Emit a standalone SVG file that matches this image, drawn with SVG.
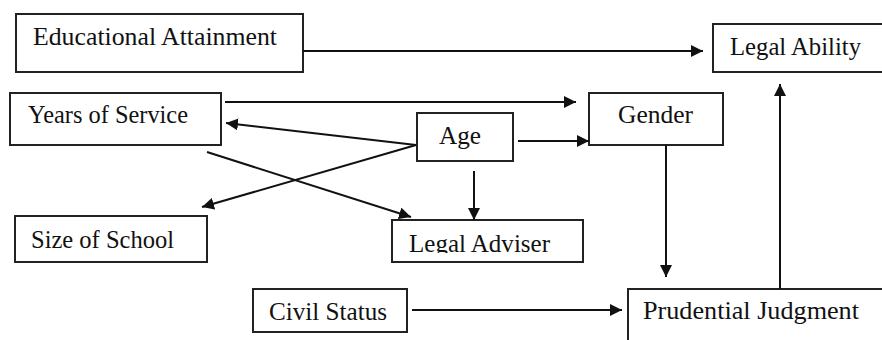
<svg xmlns="http://www.w3.org/2000/svg" width="882" height="340" viewBox="0 0 882 340">
  <style>
    .box { fill: #fff; stroke: #222; stroke-width: 2; }
    .lbl { font-family: "Liberation Serif", "DejaVu Serif", serif; font-size: 26px; fill: #111; }
    .edge { stroke: #111; stroke-width: 2; fill: none; marker-end: url(#arrow); }
  </style>
  <defs>
    <marker id="arrow" viewBox="0 0 12 12" refX="12" refY="6" markerWidth="12" markerHeight="12" markerUnits="userSpaceOnUse" orient="auto">
      <path d="M0,0 L12,6 L0,12 Z" fill="#111"/>
    </marker>
    <!-- the adviser label is cut off just below its baseline -->
    <clipPath id="adviserClip">
      <rect x="392" y="220" width="192" height="33"/>
    </clipPath>
  </defs>
  <rect width="882" height="340" fill="#fff"/>

  <g id="educational-attainment">
    <rect class="box" x="16" y="14" width="287" height="58"/>
    <text class="lbl" x="33" y="45" textLength="244" lengthAdjust="spacingAndGlyphs">Educational Attainment</text>
  </g>
  <g id="legal-ability">
    <rect class="box" x="713" y="24" width="180" height="48"/>
    <text class="lbl" x="730" y="55" textLength="131" lengthAdjust="spacingAndGlyphs">Legal Ability</text>
  </g>
  <g id="years-of-service">
    <rect class="box" x="10" y="93" width="211" height="52"/>
    <text class="lbl" x="28" y="123" textLength="160" lengthAdjust="spacingAndGlyphs">Years of Service</text>
  </g>
  <g id="gender">
    <rect class="box" x="589" y="93" width="134" height="52"/>
    <text class="lbl" x="618" y="123" textLength="75" lengthAdjust="spacingAndGlyphs">Gender</text>
  </g>
  <g id="age">
    <rect class="box" x="417" y="113" width="96" height="48"/>
    <text class="lbl" x="439" y="144" textLength="42" lengthAdjust="spacingAndGlyphs">Age</text>
  </g>
  <g id="size-of-school">
    <rect class="box" x="15" y="216" width="192" height="46"/>
    <text class="lbl" x="31" y="248" textLength="143" lengthAdjust="spacingAndGlyphs">Size of School</text>
  </g>
  <g id="legal-adviser">
    <rect class="box" x="392" y="220" width="191" height="42"/>
    <text class="lbl" x="409" y="252" textLength="141" lengthAdjust="spacingAndGlyphs" clip-path="url(#adviserClip)">Legal Adviser</text>
  </g>
  <g id="civil-status">
    <rect class="box" x="253" y="289" width="154" height="43"/>
    <text class="lbl" x="269" y="320" textLength="118" lengthAdjust="spacingAndGlyphs">Civil Status</text>
  </g>
  <g id="prudential-judgment">
    <rect class="box" x="628" y="289" width="270" height="70"/>
    <text class="lbl" x="643" y="319" textLength="216" lengthAdjust="spacingAndGlyphs">Prudential Judgment</text>
  </g>

  <g id="connectors">
    <line class="edge" x1="303" y1="51" x2="703" y2="51"/>
    <line class="edge" x1="225" y1="102" x2="576" y2="102"/>
    <line class="edge" x1="518" y1="141" x2="589" y2="141"/>
    <line class="edge" x1="416" y1="145" x2="226" y2="123"/>
    <line class="edge" x1="416" y1="145" x2="202" y2="207"/>
    <line class="edge" x1="207" y1="152" x2="411" y2="217"/>
    <line class="edge" x1="474" y1="171" x2="474" y2="220"/>
    <line class="edge" x1="666" y1="145" x2="666" y2="277"/>
    <line class="edge" x1="780" y1="289" x2="780" y2="84"/>
    <line class="edge" x1="412" y1="310" x2="622" y2="310"/>
  </g>
</svg>
